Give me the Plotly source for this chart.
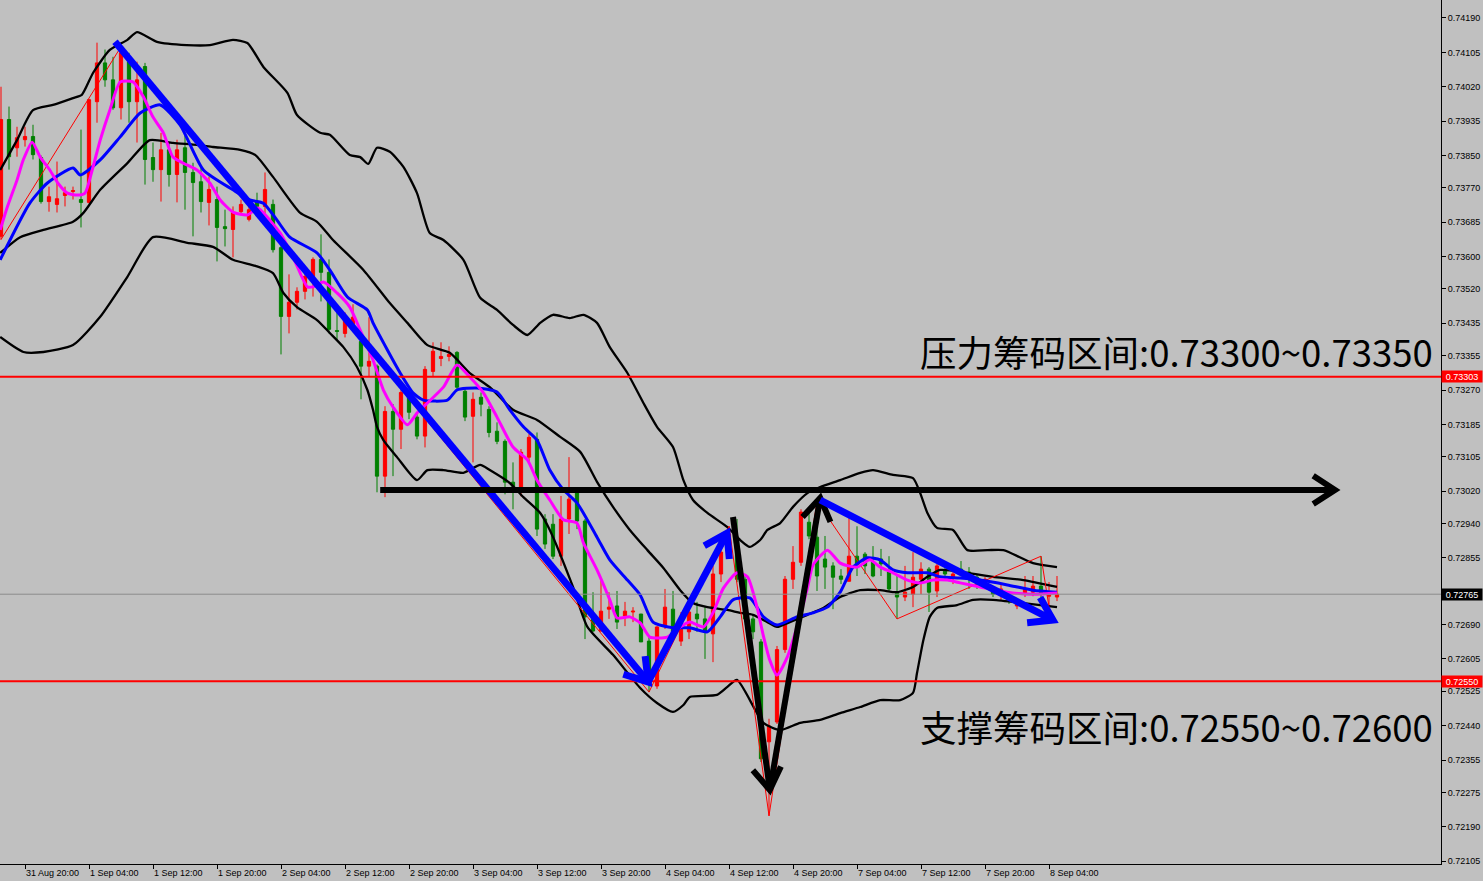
import math
import plotly.graph_objects as go

# ---------------- candle data (H1, 31 Aug 17:00 -> 8 Sep 05:00) ----------------
open_ = [0.73650, 0.73939, 0.73869, 0.73889, 0.73897, 0.73845, 0.73736, 0.73729, 0.73751, 0.73761,
         0.73741, 0.73734, 0.73983, 0.74079, 0.74037, 0.73968, 0.74082, 0.73983, 0.74070, 0.73845,
         0.73815, 0.73864, 0.73803, 0.73869, 0.73808, 0.73785, 0.73734, 0.73741, 0.73674, 0.73667,
         0.73711, 0.73692, 0.73736, 0.73724, 0.73729, 0.73622, 0.73452, 0.73487, 0.73514, 0.73551,
         0.73593, 0.73561, 0.73417, 0.73410, 0.73432, 0.73390, 0.73329, 0.73329, 0.73057, 0.73217,
         0.73173, 0.73254, 0.73203, 0.73156, 0.73316, 0.73348, 0.73353, 0.73363, 0.73267, 0.73205,
         0.73252, 0.73222, 0.73168, 0.73143, 0.73042, 0.73017, 0.73104, 0.73148, 0.72951, 0.72938,
         0.72859, 0.72951, 0.73017, 0.72946, 0.72711, 0.72674, 0.72728, 0.72736, 0.72711, 0.72721,
         0.72716, 0.72649, 0.72538, 0.72686, 0.72728, 0.72649, 0.72672, 0.72716, 0.72704, 0.72667,
         0.72815, 0.72884, 0.72901, 0.72802, 0.72704, 0.72647, 0.72400, 0.72449, 0.72628, 0.72802,
         0.72844, 0.72943, 0.72906, 0.72852, 0.72835, 0.72810, 0.72797, 0.72859, 0.72864, 0.72844,
         0.72852, 0.72820, 0.72770, 0.72758, 0.72765, 0.72802, 0.72827, 0.72773, 0.72822, 0.72807,
         0.72827, 0.72820, 0.72807, 0.72790, 0.72773, 0.72768, 0.72760, 0.72736, 0.72765, 0.72770,
         0.72785, 0.72760, 0.72758]
high = [0.74020, 0.73971, 0.73921, 0.73921, 0.73926, 0.73850, 0.73773, 0.73835, 0.73773, 0.73773,
        0.73914, 0.73990, 0.74129, 0.74112, 0.74094, 0.74119, 0.74104, 0.74082, 0.74079, 0.73882,
        0.73906, 0.73882, 0.73889, 0.73906, 0.73832, 0.73822, 0.73798, 0.73773, 0.73716, 0.73724,
        0.73741, 0.73741, 0.73758, 0.73808, 0.73741, 0.73630, 0.73556, 0.73524, 0.73568, 0.73598,
        0.73655, 0.73593, 0.73462, 0.73462, 0.73482, 0.73395, 0.73450, 0.73333, 0.73230, 0.73235,
        0.73279, 0.73264, 0.73215, 0.73329, 0.73388, 0.73388, 0.73378, 0.73366, 0.73277, 0.73264,
        0.73264, 0.73230, 0.73190, 0.73148, 0.73091, 0.73124, 0.73161, 0.73165, 0.72963, 0.72963,
        0.73008, 0.73104, 0.73025, 0.72951, 0.72770, 0.72802, 0.72770, 0.72773, 0.72746, 0.72733,
        0.72716, 0.72662, 0.72686, 0.72778, 0.72773, 0.72721, 0.72736, 0.72746, 0.72736, 0.72835,
        0.72914, 0.72933, 0.72951, 0.72810, 0.72716, 0.72654, 0.72457, 0.72637, 0.72810, 0.72884,
        0.72975, 0.72975, 0.72995, 0.72909, 0.72844, 0.72827, 0.72968, 0.72933, 0.72869, 0.72884,
        0.72877, 0.72859, 0.72810, 0.72835, 0.72869, 0.72844, 0.72832, 0.72840, 0.72840, 0.72827,
        0.72847, 0.72832, 0.72815, 0.72807, 0.72783, 0.72790, 0.72773, 0.72751, 0.72810, 0.72810,
        0.72859, 0.72795, 0.72810]
low = [0.73642, 0.73815, 0.73847, 0.73872, 0.73840, 0.73731, 0.73711, 0.73709, 0.73724, 0.73741,
       0.73672, 0.73731, 0.73931, 0.74020, 0.73963, 0.73939, 0.73931, 0.73882, 0.73778, 0.73785,
       0.73736, 0.73773, 0.73734, 0.73716, 0.73650, 0.73709, 0.73677, 0.73588, 0.73625, 0.73598,
       0.73704, 0.73687, 0.73699, 0.73699, 0.73610, 0.73358, 0.73410, 0.73469, 0.73494, 0.73501,
       0.73489, 0.73410, 0.73395, 0.73400, 0.73420, 0.73247, 0.73304, 0.73017, 0.73005, 0.73057,
       0.73124, 0.73198, 0.73148, 0.73128, 0.73304, 0.73329, 0.73341, 0.73272, 0.73193, 0.73091,
       0.73205, 0.73153, 0.73136, 0.73012, 0.72975, 0.73007, 0.73091, 0.72909, 0.72877, 0.72852,
       0.72835, 0.72914, 0.72926, 0.72654, 0.72672, 0.72672, 0.72704, 0.72679, 0.72686, 0.72696,
       0.72647, 0.72523, 0.72531, 0.72679, 0.72662, 0.72637, 0.72654, 0.72672, 0.72605, 0.72597,
       0.72795, 0.72877, 0.72795, 0.72696, 0.72654, 0.72350, 0.72217, 0.72444, 0.72620, 0.72778,
       0.72835, 0.72901, 0.72773, 0.72778, 0.72728, 0.72790, 0.72797, 0.72810, 0.72815, 0.72807,
       0.72810, 0.72773, 0.72704, 0.72748, 0.72733, 0.72765, 0.72721, 0.72758, 0.72802, 0.72790,
       0.72810, 0.72778, 0.72778, 0.72778, 0.72758, 0.72751, 0.72741, 0.72728, 0.72758, 0.72760,
       0.72736, 0.72733, 0.72748]
close = [0.73939, 0.73847, 0.73894, 0.73897, 0.73852, 0.73736, 0.73748, 0.73743, 0.73758, 0.73763,
         0.73734, 0.73988, 0.74079, 0.74037, 0.73968, 0.74104, 0.73983, 0.74037, 0.73840, 0.73815,
         0.73864, 0.73803, 0.73864, 0.73808, 0.73783, 0.73736, 0.73766, 0.73672, 0.73669, 0.73709,
         0.73729, 0.73716, 0.73724, 0.73766, 0.73617, 0.73452, 0.73487, 0.73514, 0.73551, 0.73593,
         0.73561, 0.73420, 0.73415, 0.73445, 0.73450, 0.73329, 0.73341, 0.73057, 0.73217, 0.73173,
         0.73264, 0.73215, 0.73156, 0.73321, 0.73366, 0.73353, 0.73358, 0.73277, 0.73203, 0.73247,
         0.73235, 0.73165, 0.73143, 0.73042, 0.73032, 0.73116, 0.73153, 0.72926, 0.72889, 0.72859,
         0.72951, 0.73000, 0.72946, 0.72709, 0.72674, 0.72723, 0.72733, 0.72696, 0.72723, 0.72723,
         0.72647, 0.72548, 0.72684, 0.72733, 0.72672, 0.72684, 0.72721, 0.72704, 0.72672, 0.72815,
         0.72869, 0.72914, 0.72802, 0.72704, 0.72672, 0.72358, 0.72439, 0.72628, 0.72802, 0.72844,
         0.72968, 0.72909, 0.72810, 0.72832, 0.72807, 0.72802, 0.72859, 0.72835, 0.72835, 0.72810,
         0.72840, 0.72778, 0.72758, 0.72770, 0.72807, 0.72827, 0.72770, 0.72835, 0.72815, 0.72815,
         0.72820, 0.72807, 0.72790, 0.72802, 0.72765, 0.72778, 0.72751, 0.72746, 0.72778, 0.72785,
         0.72765, 0.72770, 0.72765]
bars = list(range(len(close)))

# ---------------- axis labels ----------------
time_tick_bars = [3, 11, 19, 27, 35, 43, 51, 59, 67, 75, 83, 91, 99, 107, 115, 123, 131]
time_tick_text = ["31 Aug 20:00", "1 Sep 04:00", "1 Sep 12:00", "1 Sep 20:00", "2 Sep 04:00",
                  "2 Sep 12:00", "2 Sep 20:00", "3 Sep 04:00", "3 Sep 12:00", "3 Sep 20:00",
                  "4 Sep 04:00", "4 Sep 12:00", "4 Sep 20:00", "7 Sep 04:00", "7 Sep 12:00",
                  "7 Sep 20:00", "8 Sep 04:00"]
price_ticks = [0.74190, 0.74105, 0.74020, 0.73935, 0.73850, 0.73770, 0.73685, 0.73600, 0.73520,
               0.73435, 0.73355, 0.73270, 0.73185, 0.73105, 0.73020, 0.72940, 0.72855, 0.72690,
               0.72605, 0.72525, 0.72440, 0.72355, 0.72275, 0.72190, 0.72105]

# ---------------- indicator lines (sampled) ----------------
bb_upper_x = [-0.1, 2, 4, 6.5, 9, 10.1, 11.5, 13.6, 15.8, 17, 19.5, 23.2, 26.1, 29, 30.8, 32.8, 35.8, 37,
              39.9, 41.1, 43.6, 44.9, 45.9, 47, 48.6, 50.3, 52, 53.6, 55.3, 57.8, 59.9, 62, 64, 65.8,
              67.4, 69, 71.1, 72.8, 74.5, 76.1, 78.3, 80.3, 82, 84, 85.3, 86.5, 88.3, 90.8, 92.4, 93.6,
              94.9, 95.8, 97.4, 99, 100.8, 102.4, 104.9, 107.4, 109, 111.5, 114, 114.9, 115.8, 117,
              119, 120.8, 123.3, 125.3, 129, 132]
bb_upper_y = [0.73814, 0.73888, 0.73962, 0.73975, 0.73992, 0.74000, 0.74054, 0.74111, 0.74136, 0.74155,
              0.74131, 0.74123, 0.74123, 0.74136, 0.74128, 0.74069, 0.74005, 0.73950, 0.73906, 0.73901,
              0.73851, 0.73846, 0.73829, 0.73869, 0.73859, 0.73822, 0.73757, 0.73658, 0.73641, 0.73592,
              0.73498, 0.73468, 0.73431, 0.73406, 0.73436, 0.73456, 0.73448, 0.73456, 0.73436, 0.73376,
              0.73312, 0.73238, 0.73179, 0.73129, 0.73047, 0.72998, 0.72966, 0.72931, 0.72899, 0.72882,
              0.72899, 0.72924, 0.72941, 0.72981, 0.73015, 0.73030, 0.73047, 0.73065, 0.73072, 0.73060,
              0.73052, 0.73015, 0.72966, 0.72929, 0.72924, 0.72874, 0.72874, 0.72874, 0.72842, 0.72832]
bb_mid_x = [-0.1, 2.4, 5.3, 9, 10.3, 12.4, 15.8, 18.6, 21.5, 24.5, 26.5, 29.9, 31.8, 34, 37.4, 39.5,
            41.5, 45.3, 48.6, 50.8, 53.3, 56.1, 58.6, 61.1, 64, 67, 69.9, 72.4, 74.5, 76.5, 78.6, 80.8,
            82.8, 84.9, 86.5, 88.3, 90.8, 92.4, 94, 95.8, 97, 98.6, 100.8, 102.8, 104.9, 107.4, 109.9,
            112, 114, 115.8, 117.4, 120.8, 124, 127.8, 132]
bb_mid_y = [0.73609, 0.73648, 0.73666, 0.73686, 0.73708, 0.73765, 0.73831, 0.73888, 0.73881, 0.73876,
            0.73871, 0.73864, 0.73851, 0.73797, 0.73708, 0.73686, 0.73641, 0.73567, 0.73485, 0.73436,
            0.73381, 0.73362, 0.73312, 0.73277, 0.73221, 0.73196, 0.73154, 0.73117, 0.73043, 0.72981,
            0.72924, 0.72874, 0.72830, 0.72775, 0.72743, 0.72733, 0.72726, 0.72719, 0.72714, 0.72696,
            0.72684, 0.72696, 0.72714, 0.72731, 0.72758, 0.72775, 0.72775, 0.72770, 0.72783, 0.72808,
            0.72825, 0.72818, 0.72808, 0.72800, 0.72783]
bb_lower_x = [-0.1, 2.8, 5.3, 9, 12.4, 15.8, 19, 23.3, 26.5, 29, 31.8, 34, 35.3, 37, 39.5, 41.1, 42.8,
              44.5, 45.8, 46.5, 47, 47.8, 49.5, 52, 53.3, 55.3, 57.8, 59.9, 61.1, 63.6, 65.3, 67.4, 68.6,
              71.5, 73.3, 76.5, 79.9, 82, 84, 85.3, 86.1, 89.5, 90.8, 92, 95.3, 97.4, 99.9, 102.4, 104.9,
              107.4, 109.9, 112.4, 114, 114.5, 115.3, 116.1, 117, 119.5, 121.5, 124, 127.8, 132]
bb_lower_y = [0.73401, 0.73364, 0.73364, 0.73381, 0.73451, 0.73550, 0.73648, 0.73634, 0.73624, 0.73592,
              0.73577, 0.73559, 0.73510, 0.73475, 0.73443, 0.73411, 0.73376, 0.73327, 0.73270, 0.73221,
              0.73179, 0.73146, 0.73104, 0.73047, 0.73072, 0.73072, 0.73065, 0.73085, 0.73072, 0.73040,
              0.73005, 0.72966, 0.72924, 0.72783, 0.72684, 0.72615, 0.72533, 0.72496, 0.72474, 0.72491,
              0.72511, 0.72516, 0.72536, 0.72553, 0.72447, 0.72429, 0.72447, 0.72454, 0.72471, 0.72486,
              0.72503, 0.72503, 0.72521, 0.72570, 0.72652, 0.72709, 0.72731, 0.72738, 0.72751, 0.72751,
              0.72743, 0.72733]
ma_slow_x = [-0.1, 3.6, 5.8, 9, 9.9, 12.4, 14.9, 17.4, 19.9, 22.4, 25.3, 29, 31.1, 32.8, 34.5, 36.1,
             39.5, 41.1, 43.3, 45.8, 46.5, 48.3, 49.9, 51.5, 52.8, 55.8, 57, 59.5, 62, 63.6, 65.3, 67,
             68.6, 70.3, 72, 74.5, 76.1, 78.3, 79.9, 81.5, 84, 86.1, 88.3, 89.9, 91.5, 93.6, 95.3, 97,
             99.5, 101.5, 103.3, 104.9, 106.5, 108.3, 109.9, 111.5, 113.3, 115.8, 117.4, 119.9, 122.4,
             125.8, 129, 132]
ma_slow_y = [0.73592, 0.73732, 0.73782, 0.73819, 0.73802, 0.73839, 0.73896, 0.73955, 0.73975, 0.73925,
             0.73814, 0.73765, 0.73740, 0.73732, 0.73690, 0.73648, 0.73609, 0.73567, 0.73500, 0.73468,
             0.73436, 0.73369, 0.73312, 0.73263, 0.73245, 0.73245, 0.73270, 0.73275, 0.73265, 0.73221,
             0.73179, 0.73146, 0.73072, 0.73023, 0.72991, 0.72906, 0.72850, 0.72800, 0.72763, 0.72696,
             0.72682, 0.72682, 0.72672, 0.72709, 0.72751, 0.72756, 0.72709, 0.72689, 0.72709, 0.72719,
             0.72733, 0.72770, 0.72832, 0.72855, 0.72850, 0.72825, 0.72818, 0.72818, 0.72808, 0.72805,
             0.72800, 0.72788, 0.72775, 0.72770]
ma_fast_x = [-0.1, 0.8, 2, 2.8, 3.9, 4.9, 6.1, 7.1, 8.3, 9.5, 10.5, 11.4, 12.4, 13.6, 14.9, 16.5, 17.8,
             19, 20.3, 21.5, 23.3, 24.5, 26.1, 27.4, 29, 30.8, 32.1, 32.8, 34.9, 36.5, 38.3, 39, 40.3,
             42, 43.6, 44.9, 46.5, 47.8, 49, 50.8, 52, 53.3, 55.3, 57, 58.6, 60.3, 62, 64, 65.8, 67,
             68.6, 70.3, 72, 72.8, 74.5, 76.1, 77, 78.6, 79.9, 81.1, 83.3, 84.9, 86.1, 87.8, 89, 90.3,
             92, 93.3, 94.5, 95.3, 96.1, 97, 98.3, 99.5, 100.8, 101.5, 103.3, 104.9, 107, 108.6, 109.9,
             111.5, 113.3, 114.9, 116.5, 118.3, 119.9, 122.4, 125.8, 129, 132]
ma_fast_y = [0.73666, 0.73723, 0.73789, 0.73840, 0.73883, 0.73846, 0.73814, 0.73782, 0.73757, 0.73752,
             0.73757, 0.73814, 0.73888, 0.73962, 0.74032, 0.74032, 0.73995, 0.73945, 0.73906, 0.73846,
             0.73826, 0.73814, 0.73782, 0.73740, 0.73710, 0.73703, 0.73720, 0.73708, 0.73658, 0.73599,
             0.73525, 0.73525, 0.73537, 0.73510, 0.73475, 0.73418, 0.73344, 0.73270, 0.73228, 0.73184,
             0.73213, 0.73238, 0.73277, 0.73332, 0.73302, 0.73263, 0.73203, 0.73129, 0.73097, 0.73047,
             0.72998, 0.72949, 0.72941, 0.72892, 0.72825, 0.72751, 0.72706, 0.72709, 0.72694, 0.72659,
             0.72659, 0.72684, 0.72696, 0.72684, 0.72719, 0.72780, 0.72818, 0.72808, 0.72733, 0.72662,
             0.72602, 0.72565, 0.72610, 0.72684, 0.72780, 0.72837, 0.72874, 0.72842, 0.72832, 0.72850,
             0.72832, 0.72818, 0.72800, 0.72793, 0.72800, 0.72800, 0.72793, 0.72783, 0.72770, 0.72765,
             0.72768]
zigzag_x = [0, 15, 81, 91, 96, 102, 112, 130, 131]
zigzag_y = [0.73642, 0.74119, 0.72523, 0.72933, 0.72217, 0.72995, 0.72704, 0.72859, 0.72733]

# ---------------- levels & hand drawings ----------------
resistance_level = 0.73303
support_level = 0.72550
last_price = 0.72765
# arrows: (tail bar, tail price, head bar, head price, colour, width)
arrows = [
    (14.25, 0.74131, 80.9, 0.72548, "#0000FF", 7),
    (80.9, 0.72548, 90.75, 0.72916, "#0000FF", 7),
    (91.5, 0.72956, 96.1, 0.72281, "#000000", 6),
    (96.1, 0.72281, 102.4, 0.73003, "#000000", 6),
    (102.4, 0.72998, 131.5, 0.72701, "#0000FF", 7),
    (47.4, 0.73023, 166.75, 0.73023, "#000000", 6),
]
label_resist = "压力筹码区间:0.73300~0.73350"
label_support = "支撑筹码区间:0.72550~0.72600"

X_MIN, X_MAX = -0.125, 180.0
Y_MIN, Y_MAX = 0.720978, 0.742345
PLOT_W, PLOT_H = 1441, 864
BAR_PX = PLOT_W / (X_MAX - X_MIN)
PRICE_PER_PX = (Y_MAX - Y_MIN) / PLOT_H

BG = "#C0C0C0"
fig = go.Figure()

fig.add_trace(go.Candlestick(
    x=bars, open=open_, high=high, low=low, close=close,
    increasing=dict(line=dict(color="#FF0000", width=1), fillcolor="#FF0000"),
    decreasing=dict(line=dict(color="#008000", width=1), fillcolor="#008000"),
    whiskerwidth=0, showlegend=False, hoverinfo="skip"))

for xs, ys, col, w in [(bb_upper_x, bb_upper_y, "#000000", 2.3),
                       (bb_mid_x, bb_mid_y, "#000000", 2.3),
                       (bb_lower_x, bb_lower_y, "#000000", 2.3),
                       (zigzag_x, zigzag_y, "#FF0000", 1),
                       (ma_slow_x, ma_slow_y, "#0000FF", 3),
                       (ma_fast_x, ma_fast_y, "#FF00FF", 3)]:
    shape = "linear" if col == "#FF0000" else "spline"
    fig.add_trace(go.Scatter(x=xs, y=ys, mode="lines",
                             line=dict(color=col, width=w, shape=shape, smoothing=0.6),
                             showlegend=False, hoverinfo="skip"))

shapes = []
shapes.append(dict(type="line", xref="paper", x0=0, x1=1, yref="y", y0=last_price, y1=last_price,
                   line=dict(color="#8C8C8C", width=1)))
for lvl in (resistance_level, support_level):
    shapes.append(dict(type="line", xref="paper", x0=0, x1=1, yref="y", y0=lvl, y1=lvl,
                       line=dict(color="#FF0000", width=2)))

HEAD_LEN, HEAD_ANG = 26, 33
for ti, tp, hi, hp, col, w in arrows:
    shapes.append(dict(type="line", xref="x", yref="y", x0=ti, y0=tp, x1=hi, y1=hp,
                       line=dict(color=col, width=w)))
    dx = (hi - ti) * BAR_PX
    dy = -(hp - tp) / PRICE_PER_PX
    n = math.hypot(dx, dy)
    ux, uy = -dx / n, -dy / n
    pts = []
    for s in (1, -1):
        a = math.radians(HEAD_ANG * s)
        wx = ux * math.cos(a) - uy * math.sin(a)
        wy = ux * math.sin(a) + uy * math.cos(a)
        pts.append((hi + wx * HEAD_LEN / BAR_PX, hp - wy * HEAD_LEN * PRICE_PER_PX))
    path = f"M {pts[0][0]},{pts[0][1]} L {hi},{hp} L {pts[1][0]},{pts[1][1]}"
    shapes.append(dict(type="path", xref="x", yref="y", path=path,
                       line=dict(color=col, width=w)))

annotations = []
for txt, yv in ((label_resist, 0.73366), (label_support, 0.72439)):
    annotations.append(dict(text=txt, xref="x", yref="y", x=179.25, y=yv, xanchor="right",
                            yanchor="middle", showarrow=False,
                            font=dict(family="Noto Sans CJK SC", size=36.5, color="#000000")))
for val, bg in ((resistance_level, "#FF0000"), (support_level, "#FF0000"), (last_price, "#000000")):
    annotations.append(dict(text=f"{val:.5f}", xref="paper", x=1, xanchor="left", yref="y", y=val,
                            yanchor="middle", showarrow=False, bgcolor=bg, width=40, height=11,
                            borderpad=0, font=dict(family="Liberation Sans", size=9, color="#FFFFFF")))

fig.update_layout(
    width=1483, height=881, autosize=False,
    margin=dict(l=0, r=42, t=0, b=17, pad=0),
    paper_bgcolor=BG, plot_bgcolor=BG,
    boxgap=0.42,
    showlegend=False,
    shapes=shapes, annotations=annotations,
    font=dict(family="Liberation Sans", size=9, color="#000000"),
    xaxis=dict(range=[X_MIN, X_MAX], tickvals=time_tick_bars, ticktext=time_tick_text,
               ticks="outside", ticklen=4, tickcolor="#000000", ticklabelposition="outside right",
               showline=True, linecolor="#000000", linewidth=1, showgrid=False, zeroline=False,
               rangeslider=dict(visible=False), fixedrange=True,
               tickfont=dict(family="Liberation Sans", size=9, color="#000000")),
    yaxis=dict(range=[Y_MIN, Y_MAX], side="right", tickvals=price_ticks,
               ticktext=[f"{v:.5f}" for v in price_ticks], ticks="outside", ticklen=4,
               tickcolor="#000000", showline=True, linecolor="#000000", linewidth=1,
               showgrid=False, zeroline=False, fixedrange=True,
               tickfont=dict(family="Liberation Sans", size=9, color="#000000")),
)

fig.write_html("out.html", config={"displayModeBar": False},
               post_script="document.body.style.margin='0';")
